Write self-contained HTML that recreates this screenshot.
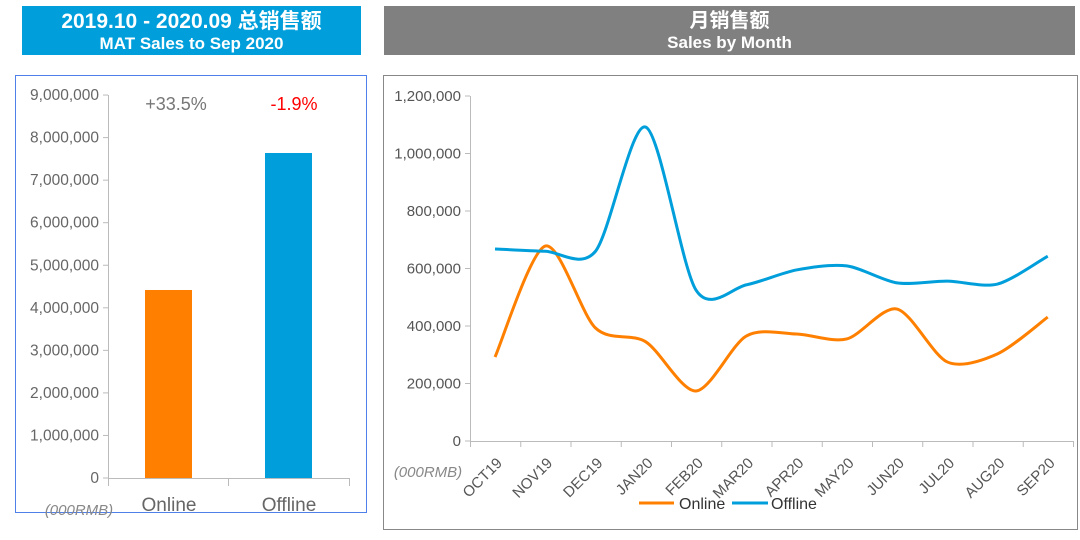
<!DOCTYPE html>
<html><head><meta charset="utf-8"><style>
body{margin:0;width:1080px;height:540px;background:#fff;overflow:hidden;font-family:"Liberation Sans","Noto Sans CJK SC",sans-serif}
.t{position:absolute;color:#fff;font-weight:bold;text-align:center;line-height:1}
</style></head><body>
<div class="t" style="left:22px;top:6px;width:339px;height:49px;background:#009fdb">
<div style="font-size:21px;margin-top:5px">2019.10 - 2020.09 总销售额</div>
<div style="font-size:17px;margin-top:3px">MAT Sales to Sep 2020</div></div>
<div class="t" style="left:384px;top:6px;width:691px;height:49px;background:#808080">
<div style="font-size:20px;margin-top:5px">月销售额</div>
<div style="font-size:17px;margin-top:3px">Sales by Month</div></div>
<svg width="1080" height="540" style="position:absolute;left:0;top:0" font-family="Liberation Sans, sans-serif">
<rect x="15.5" y="75.5" width="351" height="437" fill="none" stroke="#4f7fe8" stroke-width="1"/>
<rect x="383.5" y="75.5" width="694" height="454" fill="none" stroke="#888" stroke-width="1"/>
<g id="left" fill="#666" font-size="15.5" text-anchor="end"></g>
<rect x="145" y="290" width="47" height="188" fill="#ff8000"/>
<rect x="265" y="153" width="47" height="325" fill="#009fdb"/>
<text x="176" y="110" fill="#777" font-size="18" text-anchor="middle">+33.5%</text>
<text x="294" y="110" fill="#ff0000" font-size="18" text-anchor="middle">-1.9%</text>
<text x="169" y="511" fill="#666" font-size="19" text-anchor="middle">Online</text>
<text x="289" y="511" fill="#666" font-size="19" text-anchor="middle">Offline</text>
<text x="79" y="515" fill="#888" font-size="15" font-style="italic" text-anchor="middle">(000RMB)</text>
<g id="right" fill="#555" font-size="15"></g>
<text x="428" y="477" fill="#888" font-size="15" font-style="italic" text-anchor="middle">(000RMB)</text>
<path id="on" fill="none" stroke="#ff8000" stroke-width="3"/>
<path id="off" fill="none" stroke="#009fdb" stroke-width="3"/>
<line x1="639" y1="503" x2="674" y2="503" stroke="#ff8000" stroke-width="3"/>
<text x="679" y="509" fill="#333" font-size="16">Online</text>
<line x1="732" y1="503" x2="768" y2="503" stroke="#009fdb" stroke-width="3"/>
<text x="771" y="509" fill="#333" font-size="16">Offline</text>
</svg>
<script>
var ns="http://www.w3.org/2000/svg";
function el(p,t,a,txt){var e=document.createElementNS(ns,t);for(var k in a)e.setAttribute(k,a[k]);if(txt!=null)e.textContent=txt;p.appendChild(e);return e;}
var L=document.getElementById('left');
el(L,'line',{x1:108.5,y1:95,x2:108.5,y2:486,stroke:'#bbb'});
el(L,'line',{x1:108,y1:478.5,x2:349,y2:478.5,stroke:'#bbb'});
[228.5,349.5].forEach(function(x){el(L,'line',{x1:x,y1:478,x2:x,y2:486,stroke:'#bbb'})});
for(var i=0;i<=9;i++){var y=478-i*42.55;el(L,'line',{x1:103,y1:y,x2:108,y2:y,stroke:'#bbb'});
el(L,'text',{x:99,y:y+5},i==0?'0':(i+',000,000'));}
var R=document.getElementById('right');
el(R,'line',{x1:470.5,y1:96,x2:470.5,y2:441,stroke:'#bbb'});
el(R,'line',{x1:470,y1:441.5,x2:1073,y2:441.5,stroke:'#bbb'});
var yl=['0','200,000','400,000','600,000','800,000','1,000,000','1,200,000'];
for(var i=0;i<=6;i++){var y=441-i*57.5;el(R,'line',{x1:465,y1:y,x2:470,y2:y,stroke:'#bbb'});el(R,'text',{x:461,y:y+5,'text-anchor':'end'},yl[i]);}
var m=['OCT19','NOV19','DEC19','JAN20','FEB20','MAR20','APR20','MAY20','JUN20','JUL20','AUG20','SEP20'];
for(var i=0;i<=12;i++){var x=470.5+i*50.25;el(R,'line',{x1:x,y1:441,x2:x,y2:447,stroke:'#bbb'});}
for(var i=0;i<12;i++){var x=503+i*50.25,y=464;el(R,'text',{x:x,y:y,'text-anchor':'end',transform:'rotate(-45 '+x+' '+y+')'},m[i]);}
var on=[292,678,393,345,174,365,372,355,459,275,303,431],off=[668,660,660,1092,525,543,595,609,550,556,546,643];
function path(v){var p=v.map(function(d,i){return [495+i*50.25,441-d*0.2875]});var s='M'+p[0][0]+','+p[0][1];
var k=7;
for(var i=0;i<p.length-1;i++){var p0=p[i-1]||p[i],p1=p[i],p2=p[i+1],p3=p[i+2]||p2;
var c1=[p1[0]+(p2[0]-p0[0])/k,p1[1]+(p2[1]-p0[1])/k],c2=[p2[0]-(p3[0]-p1[0])/k,p2[1]-(p3[1]-p1[1])/k];
s+=' C'+c1+' '+c2+' '+p2;}return s;}
document.getElementById('on').setAttribute('d',path(on));
document.getElementById('off').setAttribute('d',path(off));
</script>
</body></html>
